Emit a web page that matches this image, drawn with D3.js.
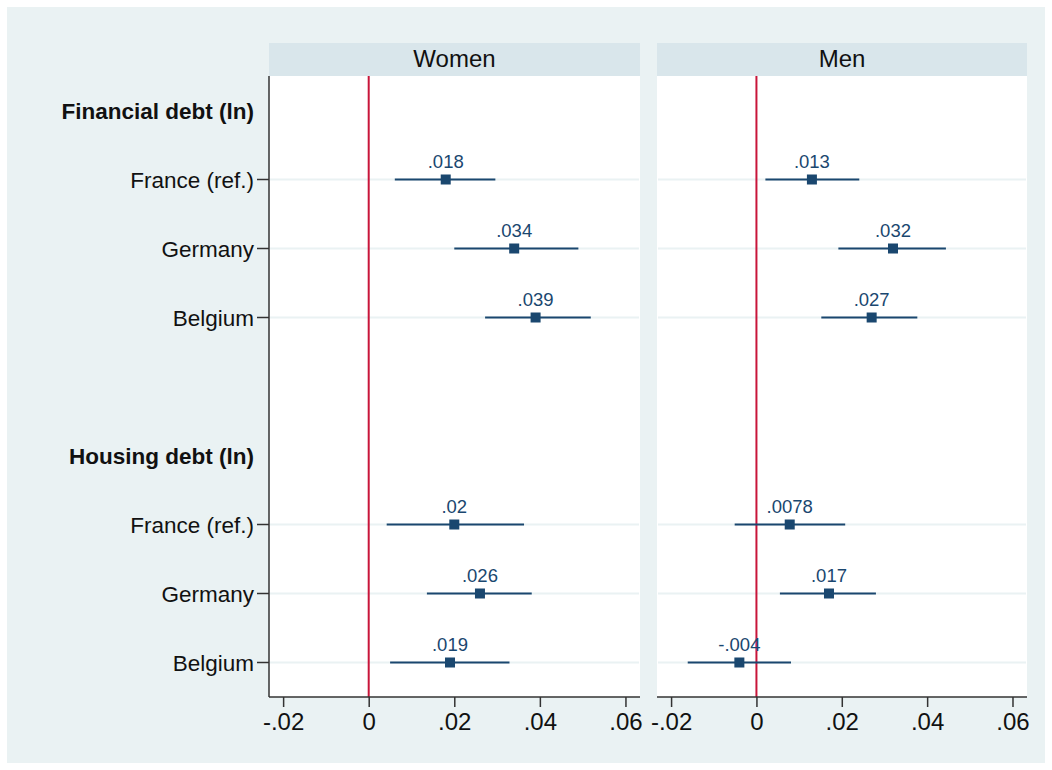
<!DOCTYPE html>
<html>
<head>
<meta charset="utf-8">
<script src="https://cdn.jsdelivr.net/npm/d3@7"></script>
<style>
  body { margin: 0; background: #fff; }
  text { font-family: 'Liberation Sans', Arial, sans-serif; }
</style>
</head>
<body>
<div id="chart"></div>
<script>
const width = 1052
const height = 770

// rows from top to bottom ('' = empty spacer row)
const rowLabels = ['Financial debt (ln)', 'France (ref.)', 'Germany', 'Belgium', '',
  'Housing debt (ln)', 'France (ref.)', 'Germany', 'Belgium']
const headerRows = [0, 5]
const pointRows = [1, 2, 3, 6, 7, 8]

const panelNames = ['Women', 'Men']

const womenEst = [0.018, 0.034, 0.039, 0.020, 0.026, 0.019]
const womenLo = [0.0061, 0.0200, 0.0272, 0.0042, 0.0136, 0.0050]
const womenHi = [0.0296, 0.0490, 0.0519, 0.0363, 0.0381, 0.0329]
const womenLbl = ['.018', '.034', '.039', '.02', '.026', '.019']

const menEst = [0.013, 0.032, 0.027, 0.0078, 0.017, -0.004]
const menLo = [0.0021, 0.0192, 0.0152, -0.0051, 0.0055, -0.0161]
const menHi = [0.0241, 0.0444, 0.0377, 0.0208, 0.0280, 0.0081]
const menLbl = ['.013', '.032', '.027', '.0078', '.017', '-.004']

const xTicks = [-0.02, 0, 0.02, 0.04, 0.06]

const series = [
  { est: womenEst, lo: womenLo, hi: womenHi, lbl: womenLbl },
  { est: menEst, lo: menLo, hi: menHi, lbl: menLbl }
]

const navy = '#1a476f'
const red = '#c8153a'

const svg = d3.select('#chart').append('svg')
  .attr('width', width)
  .attr('height', height)

// outer background
svg.append('rect')
  .attr('x', 7).attr('y', 7)
  .attr('width', width - 14).attr('height', height - 14)
  .attr('fill', '#eaf2f3')

const plotTop = 76
const plotBottom = 697
const panelX = [[269, 640], [657, 1027]]

const y = d3.scalePoint()
  .domain(d3.range(rowLabels.length))
  .range([plotTop, plotBottom])
  .padding(0.5)

// stata style tick labels: no leading zero, plain hyphen
const fmt = v => {
  if (v === 0) return '0'
  return d3.format('.2~f')(v).replace('\u2212', '-').replace('0.', '.')
}

panelNames.forEach(function(name, p) {
  const x = d3.scaleLinear()
    .domain([-0.0233, 0.0634])
    .range(panelX[p])
  const s = series[p]
  const g = svg.append('g')

  // strip title
  g.append('rect')
    .attr('x', panelX[p][0]).attr('y', 43)
    .attr('width', panelX[p][1] - panelX[p][0]).attr('height', 33)
    .attr('fill', '#d9e6eb')
  g.append('text')
    .attr('x', (panelX[p][0] + panelX[p][1]) / 2)
    .attr('y', 67)
    .attr('text-anchor', 'middle')
    .attr('font-size', 24)
    .attr('fill', '#111')
    .text(name)

  // plot region
  g.append('rect')
    .attr('x', panelX[p][0]).attr('y', plotTop)
    .attr('width', panelX[p][1] - panelX[p][0]).attr('height', plotBottom - plotTop)
    .attr('fill', '#fff')

  // gridlines at category rows
  g.selectAll('.grid')
    .data(pointRows)
    .enter().append('line')
    .attr('x1', panelX[p][0] + 1).attr('x2', panelX[p][1] - 1)
    .attr('y1', d => y(d)).attr('y2', d => y(d))
    .attr('stroke', '#eaf2f3')
    .attr('stroke-width', 2)

  // reference line at zero
  g.append('line')
    .attr('x1', x(0)).attr('x2', x(0))
    .attr('y1', plotTop).attr('y2', plotBottom)
    .attr('stroke', red)
    .attr('stroke-width', 2)

  // bottom axis
  const axis = g.append('g')
    .attr('transform', 'translate(0,' + plotBottom + ')')
    .call(d3.axisBottom(x).tickValues(xTicks).tickFormat(fmt).tickSize(10).tickPadding(6))
  axis.select('.domain').attr('stroke', '#333').attr('stroke-width', 1.5)
    .attr('d', 'M' + panelX[p][0] + ',0H' + panelX[p][1])
  axis.selectAll('.tick line').attr('stroke', '#333').attr('stroke-width', 1.5)
  axis.selectAll('.tick text')
    .attr('font-size', 24)
    .attr('fill', '#111')
    .attr('font-family', "'Liberation Sans', Arial, sans-serif")

  // confidence intervals
  g.selectAll('.ci')
    .data(pointRows)
    .enter().append('line')
    .attr('x1', (d, i) => x(s.lo[i])).attr('x2', (d, i) => x(s.hi[i]))
    .attr('y1', d => y(d)).attr('y2', d => y(d))
    .attr('stroke', navy)
    .attr('stroke-width', 2)

  // point estimates
  g.selectAll('.pt')
    .data(pointRows)
    .enter().append('rect')
    .attr('x', (d, i) => x(s.est[i]) - 5)
    .attr('y', d => y(d) - 5)
    .attr('width', 10).attr('height', 10)
    .attr('fill', navy)

  // value labels
  g.selectAll('.lbl')
    .data(pointRows)
    .enter().append('text')
    .attr('x', (d, i) => x(s.est[i]))
    .attr('y', d => y(d) - 12)
    .attr('text-anchor', 'middle')
    .attr('font-size', 18.5)
    .attr('fill', navy)
    .text((d, i) => s.lbl[i])
})

// left axis
const yAxis = svg.append('g')
yAxis.append('line')
  .attr('x1', 269).attr('x2', 269)
  .attr('y1', plotTop).attr('y2', plotBottom)
  .attr('stroke', '#333').attr('stroke-width', 1.5)

yAxis.selectAll('.ytick')
  .data(pointRows)
  .enter().append('line')
  .attr('x1', 257).attr('x2', 269)
  .attr('y1', d => y(d)).attr('y2', d => y(d))
  .attr('stroke', '#333').attr('stroke-width', 1.5)

yAxis.selectAll('.ylab')
  .data(d3.range(rowLabels.length).filter(i => rowLabels[i] !== ''))
  .enter().append('text')
  .attr('x', 254)
  .attr('y', d => y(d))
  .attr('dy', '0.36em')
  .attr('text-anchor', 'end')
  .attr('font-size', d => headerRows.includes(d) ? 22.5 : 22.5)
  .attr('font-weight', d => headerRows.includes(d) ? 'bold' : 'normal')
  .attr('fill', '#111')
  .text(d => rowLabels[d])
</script>
</body>
</html>
